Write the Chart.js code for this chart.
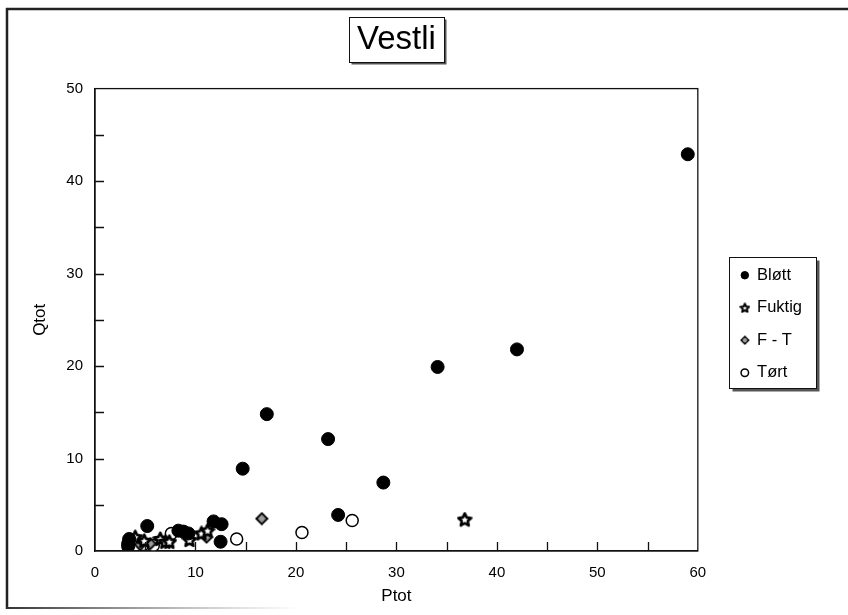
<!DOCTYPE html>
<html>
<head>
<meta charset="utf-8">
<script src="https://cdn.jsdelivr.net/npm/chart.js@4/dist/chart.umd.min.js"></script>
<style>
  html, body { margin: 0; padding: 0; background: #fff; }
  #wrap { width: 848px; height: 615px; }
</style>
</head>
<body>
<div id="wrap"><canvas id="vestliChart" width="848" height="615"></canvas></div>
<script>
// Ptot / Qtot per soil moisture class
var blottP  = [59.0, 42.0, 34.1, 17.1, 23.2, 14.7, 28.7, 24.2, 11.8, 12.6, 12.5, 5.2, 8.3, 8.8, 9.3, 3.4, 3.3, 3.3];
var blottQ  = [42.9, 21.8, 19.9, 14.8, 12.1, 8.9, 7.4, 3.9, 3.2, 2.9, 1.0, 2.7, 2.2, 2.1, 1.9, 1.3, 0.8, 0.5];
var fuktigP = [36.8, 4.0, 4.9, 6.5, 7.0, 7.4, 9.4, 10.6, 11.2];
var fuktigQ = [3.4, 1.5, 1.1, 1.3, 1.0, 1.0, 1.2, 1.9, 2.2];
var ftP     = [16.6, 11.1, 4.5, 5.5];
var ftQ     = [3.5, 1.5, 0.7, 0.8];
var tortP   = [14.1, 20.6, 25.6, 7.6, 5.8, 4.8];
var tortQ   = [1.3, 2.0, 3.3, 1.9, 0.6, 0.7];

var xTicks = [0, 10, 20, 30, 40, 50, 60];
var yTicks = [0, 10, 20, 30, 40, 50];

var FONT = "'Liberation Sans', Arial, Helvetica, sans-serif";
var TITLE_SIZE = 33;

function pts(xs, ys) {
    return xs.map(function (x, i) { return { x: x, y: ys[i] }; });
}

function makeStar(size, lw) {
    var c = document.createElement('canvas');
    c.width = c.height = size;
    var g = c.getContext('2d');
    var cx = size / 2, cy = size / 2 + 0.5;
    var R = size / 2 - lw / 2, r = R * 0.48;
    g.beginPath();
    for (var i = 0; i < 10; i++) {
        var a = -Math.PI / 2 + i * Math.PI / 5;
        var rad = i % 2 ? r : R;
        g.lineTo(cx + rad * Math.cos(a), cy + rad * Math.sin(a));
    }
    g.closePath();
    g.fillStyle = '#fff';
    g.fill();
    g.lineJoin = 'round';
    g.lineWidth = lw;
    g.strokeStyle = '#000';
    g.stroke();
    return c;
}

function makeDiamond(size, lw) {
    var c = document.createElement('canvas');
    c.width = c.height = size;
    var g = c.getContext('2d');
    var m = size / 2, e = lw / 2 + 0.5;
    g.beginPath();
    g.moveTo(m, e);
    g.lineTo(size - e, m);
    g.lineTo(m, size - e);
    g.lineTo(e, m);
    g.closePath();
    g.fillStyle = '#8a8a8a';
    g.fill();
    g.lineWidth = lw;
    g.strokeStyle = '#000';
    g.stroke();
    g.fillStyle = '#d8d8d8';
    g.fillRect(m - 1.5, m - 1.5, 1, 1);
    g.fillRect(m + 0.5, m + 0.5, 1, 1);
    g.fillRect(m - 1.5, m + 0.5, 1, 1);
    g.fillRect(m + 0.5, m - 1.5, 1, 1);
    return c;
}

var starBig = makeStar(16, 2.6);
var starSmall = makeStar(11, 2);
var diamondBig = makeDiamond(14, 1.8);
var diamondSmall = makeDiamond(10, 1.5);

function shadowBox(c, x0, y0, x1, y1, sh) {
    c.fillStyle = '#555';
    c.fillRect(x0 + sh, y0 + sh, x1 - x0, y1 - y0);
    c.fillStyle = '#fff';
    c.fillRect(x0, y0, x1 - x0, y1 - y0);
    c.strokeStyle = '#111';
    c.lineWidth = 1;
    c.strokeRect(x0, y0, x1 - x0, y1 - y0);
}

// white page, outer frame, title box, legend box, plot box, inward ticks
var framePlugin = {
    id: 'framePlugin',
    afterLayout: function (chart) {
        var lg = chart.legend;
        if (lg) {
            lg.left += 27; lg.right += 27;
            lg.top += 16; lg.bottom += 16;
        }
    },
    beforeDraw: function (chart) {
        var c = chart.ctx;
        c.save();
        c.fillStyle = '#fff';
        c.fillRect(0, 0, chart.width, chart.height);
        c.strokeStyle = '#222';
        c.lineWidth = 2.5;
        c.beginPath();
        c.moveTo(6, 9); c.lineTo(848, 9);
        c.moveTo(7, 8); c.lineTo(7, 609);
        c.stroke();
        var grad = c.createLinearGradient(7, 0, 300, 0);
        grad.addColorStop(0, '#333');
        grad.addColorStop(1, 'rgba(120,120,120,0)');
        c.strokeStyle = grad;
        c.lineWidth = 2;
        c.beginPath();
        c.moveTo(7, 608); c.lineTo(300, 608);
        c.stroke();

        // title box
        var t = chart.titleBlock;
        if (t) {
            c.font = TITLE_SIZE + 'px ' + FONT;
            var tw = c.measureText(chart.options.plugins.title.text).width;
            var cx = (t.left + t.right) / 2;
            var x0 = Math.round(cx - tw / 2 - 8) + 0.5, x1 = Math.round(cx + tw / 2 + 8) + 0.5;
            shadowBox(c, x0, 17.5, x1, 62.5, 2);
        }

        // legend box
        var lg = chart.legend;
        if (lg && lg.legendHitBoxes && lg.legendHitBoxes.length) {
            var hb = lg.legendHitBoxes;
            var first = hb[0], last = hb[hb.length - 1];
            var maxR = 0;
            hb.forEach(function (h) { maxR = Math.max(maxR, h.left + h.width); });
            var lx0 = Math.round(first.left - 12) + 0.5;
            var lx1 = Math.round(maxR + 14) + 0.5;
            var ly0 = Math.round(first.top - 10) + 0.5;
            var ly1 = Math.round(last.top + last.height + 7) + 0.5;
            shadowBox(c, lx0, ly0, lx1, ly1, 3);
        }
        c.restore();
    },
    afterDatasetsDraw: function (chart) {
        var c = chart.ctx, a = chart.chartArea;
        var xs = chart.scales.x, ys = chart.scales.y;
        c.save();
        c.strokeStyle = '#111';
        c.lineWidth = 1.3;
        c.strokeRect(a.left, a.top, a.right - a.left, a.bottom - a.top);
        c.beginPath();
        for (var v = 5; v < 60; v += 5) {
            var px = Math.round(xs.getPixelForValue(v)) + 0.5;
            c.moveTo(px, a.bottom); c.lineTo(px, a.bottom - 9);
        }
        for (var w = 5; w < 50; w += 5) {
            var py = Math.round(ys.getPixelForValue(w)) + 0.5;
            c.moveTo(a.left, py); c.lineTo(a.left + 9, py);
        }
        c.stroke();
        c.restore();
    }
};

var ctx = document.getElementById('vestliChart').getContext('2d');
var vestliChart = new Chart(ctx, {
    type: 'scatter',
    data: {
        datasets: [{
            label: 'Bløtt',
            data: pts(blottP, blottQ),
            pointStyle: 'circle',
            pointRadius: 6.5,
            backgroundColor: '#000',
            borderColor: '#000',
            borderWidth: 1
        }, {
            label: 'Fuktig',
            data: pts(fuktigP, fuktigQ),
            pointStyle: starBig,
            backgroundColor: '#000',
            borderColor: '#000'
        }, {
            label: 'F - T',
            data: pts(ftP, ftQ),
            pointStyle: diamondBig,
            backgroundColor: '#888',
            borderColor: '#000'
        }, {
            label: 'Tørt',
            data: pts(tortP, tortQ),
            pointStyle: 'circle',
            pointRadius: 6,
            backgroundColor: '#fff',
            borderColor: '#000',
            borderWidth: 1.5
        }]
    },
    options: {
        responsive: false,
        animation: false,
        events: [],
        layout: {
            padding: { left: 30, right: 63, top: 9, bottom: 8 }
        },
        scales: {
            x: {
                type: 'linear',
                min: 0,
                max: 60,
                afterBuildTicks: function (s) { s.ticks = xTicks.map(function (v) { return { value: v }; }); },
                afterFit: function (s) { s.height = 56; },
                grid: { display: false, drawTicks: false },
                border: { display: true, color: '#111', width: 1.3 },
                ticks: { padding: 13, color: '#000', font: { family: FONT, size: 15 } },
                title: {
                    display: true,
                    text: 'Ptot',
                    color: '#000',
                    padding: { top: 0, bottom: 0 },
                    font: { family: FONT, size: 17 }
                }
            },
            y: {
                type: 'linear',
                min: 0,
                max: 50,
                afterBuildTicks: function (s) { s.ticks = yTicks.map(function (v) { return { value: v }; }); },
                afterFit: function (s) { s.width = 65; },
                grid: { display: false, drawTicks: false },
                border: { display: true, color: '#111', width: 1.3 },
                ticks: { padding: 12, color: '#000', font: { family: FONT, size: 15 } },
                title: {
                    display: true,
                    text: 'Qtot',
                    color: '#000',
                    padding: { top: 0, bottom: 0 },
                    font: { family: FONT, size: 17 }
                }
            }
        },
        plugins: {
            title: {
                display: true,
                text: 'Vestli',
                fullSize: false,
                color: '#000',
                font: { family: FONT, size: TITLE_SIZE, weight: 'normal' },
                padding: { top: 11, bottom: 29 }
            },
            legend: {
                display: true,
                position: 'right',
                align: 'center',
                labels: {
                    usePointStyle: true,
                    boxWidth: 8,
                    boxHeight: 5.3,
                    padding: 16,
                    color: '#000',
                    font: { family: FONT, size: 16.5 },
                    generateLabels: function (chart) {
                        var items = Chart.defaults.plugins.legend.labels.generateLabels(chart);
                        items.forEach(function (it) {
                            if (it.text === 'Fuktig') it.pointStyle = starSmall;
                            if (it.text === 'F - T') it.pointStyle = diamondSmall;
                        });
                        return items;
                    }
                }
            },
            tooltip: { enabled: false }
        }
    },
    plugins: [framePlugin]
});
</script>
</body>
</html>
